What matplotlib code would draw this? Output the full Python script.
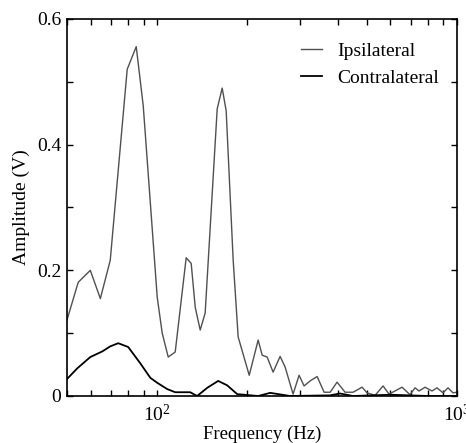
import matplotlib
matplotlib.use("Agg")
import matplotlib.pyplot as plt
from matplotlib.ticker import MultipleLocator, FuncFormatter, LogLocator

# Ipsilateral spectrum (Hz, V)
ipsi_freq = [50, 54.5, 59.8, 64.6, 69.7, 79.4, 85.1, 89.8, 100, 103.9, 108.8,
             114.8, 124.9, 129.8, 133.9, 139.1, 144.5, 158.5, 164.7, 169.8,
             179.2, 186.2, 202.7, 217.1, 223.9, 232.6, 243.5, 257.0, 267.1,
             283.9, 297.3, 309.0, 323.6, 341.5, 360.3, 377.3, 398.1, 423.3,
             450.1, 482.3, 501.2, 532.9, 566.7, 593.4, 655.7, 697.0, 724.4,
             747.1, 782.3, 825.4, 857.7, 898.1, 933.3, 969.8, 1000]
ipsi_amp = [0.121, 0.181, 0.200, 0.155, 0.216, 0.520, 0.556, 0.462, 0.157,
            0.100, 0.062, 0.070, 0.220, 0.211, 0.141, 0.105, 0.132, 0.457,
            0.490, 0.454, 0.216, 0.094, 0.033, 0.089, 0.065, 0.062, 0.038,
            0.063, 0.046, 0.003, 0.033, 0.016, 0.024, 0.031, 0.006, 0.006,
            0.022, 0.006, 0.006, 0.014, 0.005, 0.001, 0.016, 0.003, 0.014,
            0.002, 0.013, 0.008, 0.014, 0.008, 0.013, 0.005, 0.013, 0.005,
            0.006]

# Contralateral spectrum (Hz, V)
contra_freq = [50, 54.1, 59.8, 65.6, 69.7, 74.1, 80.0, 87.8, 94.8, 100, 108.0,
               114.8, 124.0, 128.8, 135.9, 146.8, 159.7, 171.1, 184.8, 217.1,
               238.1, 277.5, 377.0, 407.0, 450.0, 600.0, 800.0, 1000]
contra_amp = [0.027, 0.044, 0.062, 0.071, 0.079, 0.084, 0.078, 0.052, 0.029,
              0.021, 0.011, 0.006, 0.006, 0.006, 0.000, 0.013, 0.024, 0.017,
              0.003, 0.000, 0.005, 0.000, 0.001, 0.004, 0.000, 0.002, 0.000,
              0.000]

plt.rcParams['font.family'] = ['Liberation Serif', 'DejaVu Serif']
plt.rcParams['mathtext.fontset'] = 'custom'
plt.rcParams['mathtext.rm'] = 'Liberation Serif'
plt.rcParams['mathtext.it'] = 'Liberation Serif:italic'

fig = plt.figure(figsize=(4.66, 4.43), dpi=100)
ax = fig.add_axes([67/466, 1-396/443, 390/466, 377/443])

ax.plot(ipsi_freq, ipsi_amp, color='#505050', lw=1.0, label='Ipsilateral')
ax.plot(contra_freq, contra_amp, color='black', lw=1.3, label='Contralateral')

ax.set_xscale('log')
ax.set_xlim(50, 1000)
ax.set_ylim(0, 0.6)
ax.yaxis.set_major_locator(MultipleLocator(0.2))
ax.yaxis.set_minor_locator(MultipleLocator(0.1))
ax.yaxis.set_major_formatter(FuncFormatter(lambda v, p: '0' if abs(v) < 1e-9 else f'{v:.1f}'))
ax.xaxis.set_major_locator(LogLocator(base=10))
ax.xaxis.set_minor_locator(LogLocator(base=10, subs=range(2, 10)))
ax.xaxis.set_minor_formatter(plt.NullFormatter())

ax.tick_params(which='both', direction='in', top=True, right=True,
               length=4, width=1, labelsize=14)
ax.tick_params(axis='x', pad=6)
ax.tick_params(axis='y', pad=4)
for s in ax.spines.values():
    s.set_linewidth(1.2)

ax.set_xlabel('Frequency (Hz)', fontsize=13.5, labelpad=0)
ax.set_ylabel('Amplitude (V)', fontsize=14, labelpad=5)

ax.legend(loc='upper right', frameon=False, fontsize=14, handlelength=1.1,
          handletextpad=0.8, labelspacing=0.5, bbox_to_anchor=(1.0, 0.985))

fig.savefig('out.png', dpi=100)
